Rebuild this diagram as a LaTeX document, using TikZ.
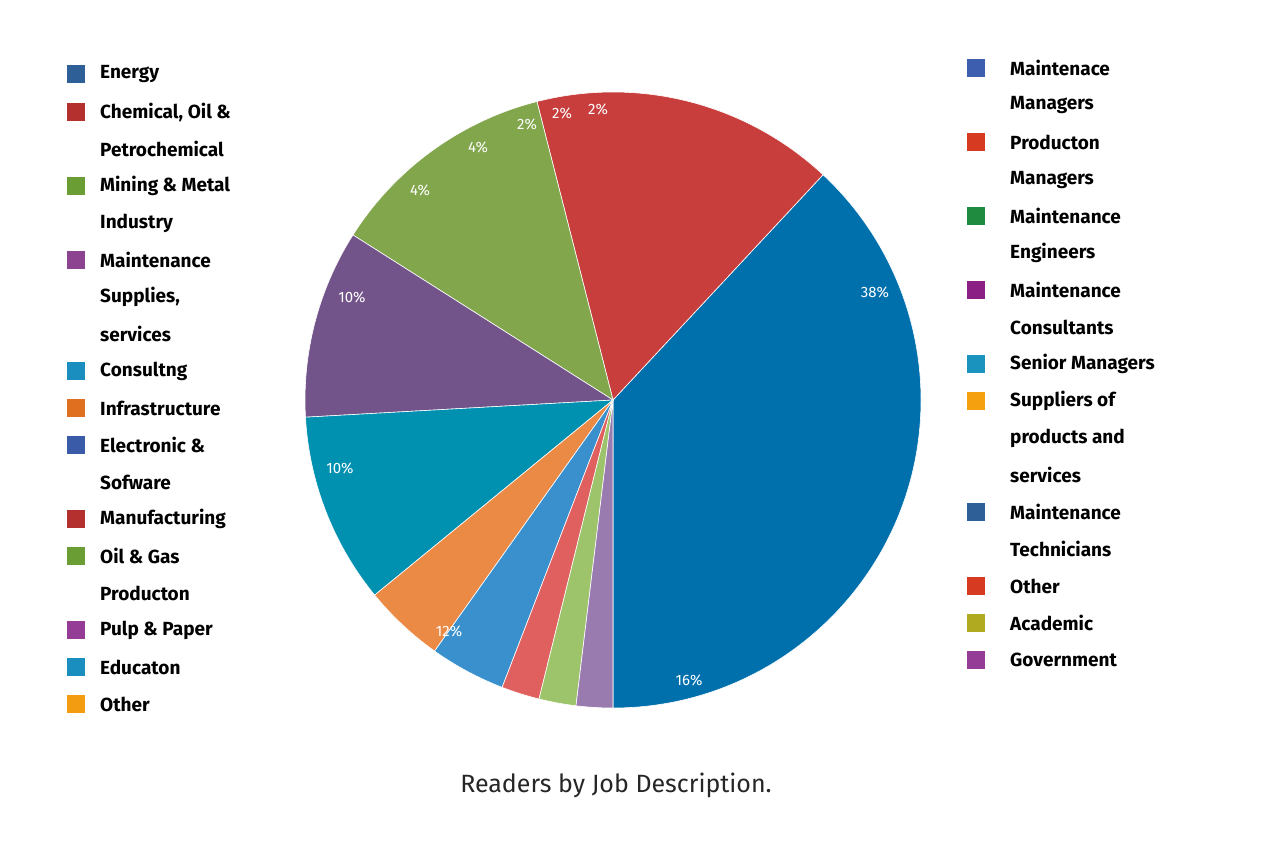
\documentclass[tikz,border=0pt]{standalone}
\usepackage{fontspec}
\setmainfont{Fira Sans}
\begin{document}
\begin{tikzpicture}[x=1pt,y=-1pt,
  leg/.style={font=\bfseries\fontsize{19}{22}\selectfont,anchor=west,inner sep=0pt},
  sq/.style={minimum size=18pt,inner sep=0pt},
  pct/.style={text=white,font=\fontsize{15}{17}\selectfont,inner sep=0pt}]
\useasboundingbox (0,0) rectangle (1284,856);
\fill[white] (0,0) rectangle (1284,856);
\coordinate (c) at (613,400);
\def\R{308}
\foreach \a/\b/\col in {90/-47/0070AD,-47/-104.3/C73E3D,-104.3/-147.6/82A64C,-147.6/-183.2/73548A,176.8/140.7/0090B0,140.7/125.4/EB8A44,125.4/111.1/3A90CC,111.1/103.9/E06060,103.9/96.9/9DC46A,96.9/90/9A7BB0}{
  \definecolor{tmp}{HTML}{\col}
  \fill[tmp,draw=white,line width=0.6pt] (c) -- ++(\a:\R pt and -\R pt) arc[start angle=\a,end angle=\b,x radius=\R pt,y radius=-\R pt] -- cycle;
}
\node[pct] (p1) at (875,292) {38\%};
\node[pct] (p2) at (689,680) {16\%};
\node[pct] (p3) at (449,631) {12\%};
\node[pct] (p4) at (340,468) {10\%};
\node[pct] (p5) at (352,297) {10\%};
\node[pct] (p6) at (420,190) {4\%};
\node[pct] (p7) at (478,147) {4\%};
\node[pct] (p8) at (527,124) {2\%};
\node[pct] (p9) at (562,113) {2\%};
\node[pct] (p10) at (598,109) {2\%};
% left legend
\foreach \y/\col/\t [count=\i] in {74/2F5F97/Energy,112/B3302E/{Chemical, Oil \&},186/6A9E35/Mining \& Metal,260/8E4390/Maintenance,371/1A8FBF/Consultng,408/E07020/Infrastructure,445/3A5BA8/Electronic \&,519/B3302E/Manufacturing,556/6A9E35/Oil \& Gas,630/943C96/Pulp \& Paper,667/1A8FBF/Educaton,704/F39C12/Other}{
  \definecolor{tmp}{HTML}{\col}
  \node[sq,fill=tmp] (ls\i) at (76,\y) {};
  \node[leg] (lt\i) at (100,\y) {\t};
}
\foreach \y/\t [count=\i] in {149/Petrochemical,223/Industry,297/{Supplies,},334/services,482/Sofware,593/Producton}{
  \node[leg] (lc\i) at (100,\y) {\t};
}
% right legend
\begin{scope}
\clip (940,40) rectangle (1172,700);
\foreach \y/\col/\t [count=\i] in {68/3D5DAE/Maintenace,142/D63A20/Producton,216/1E8B3E/Maintenance,290/8C1F83/Maintenance,364/1A94BE/Senior Managers,401/F5A00F/Suppliers of,512/2F5F97/Maintenance,586/D63A20/Other,623/B0AA20/Academic,660/943C96/Government}{
  \definecolor{tmp}{HTML}{\col}
  \node[sq,fill=tmp] (rs\i) at (976,\y) {};
  \node[leg] (rt\i) at (1010,\y) {\t};
}
\foreach \y/\t [count=\i] in {105/Managers,180/Managers,253/Engineers,327/Consultants,438/products and,475/services,549/Technicians}{
  \node[leg] (rc\i) at (1010,\y) {\t};
}
\end{scope}
\node[font=\fontsize{25}{28}\selectfont,text=black!85] (cap) at (616,785) {Readers by Job Description.};
\end{tikzpicture}
\end{document}
